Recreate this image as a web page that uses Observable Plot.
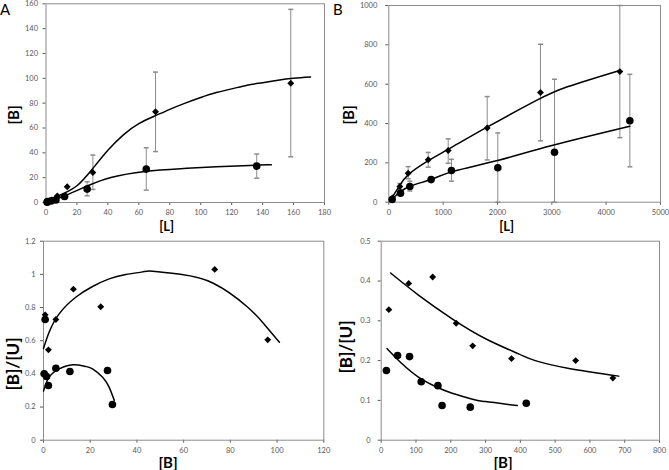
<!DOCTYPE html>
<html><head><meta charset="utf-8">
<script src="https://cdn.jsdelivr.net/npm/d3@7"></script>
<script src="https://cdn.jsdelivr.net/npm/@observablehq/plot@0.6"></script>
<style>
body{margin:0;background:#fff;}
#root{position:relative;width:669px;height:470px;overflow:hidden;font-family:Lato,sans-serif;background:#fff;}
.panel{position:absolute;}
.t{position:absolute;font-weight:bold;color:#000;white-space:nowrap;line-height:1;font-family:Lato,sans-serif;}
.rot{transform:translate(-50%,-50%) rotate(-90deg);}
.hor{transform:translate(-50%,-50%);}
.letter{position:absolute;font-size:15px;color:#000;line-height:1;font-family:Lato,sans-serif;}
</style></head><body><div id="root"></div>
<script>
// ---------- Panel A : [B] vs [L] ----------
const aDiamondL = [0.93, 3.85, 7.3, 13.7, 30.3, 70.8, 158.2];
const aDiamondB = [0.7, 2.1, 5.3, 12.7, 24.2, 73.1, 96];
const aDiamondHi = [null, null, null, null, 38.2, 105, 155.5];
const aDiamondLo = [null, null, null, null, 10.5, 41, 36.8];
const aCircleL = [0.75, 0.96, 3.4, 6.4, 12, 26.6, 64.8, 136.2];
const aCircleB = [0.3, 0.7, 1.3, 2.1, 4.8, 10.8, 26.9, 29.3];
const aCircleHi = [null, null, null, null, 6.5, 16.7, 44.1, 39];
const aCircleLo = [null, null, null, null, 3.2, 5.4, 10, 19.6];
const aFitUpperL = [0, 10, 20, 30, 40, 50, 60, 70, 80, 90, 100, 110, 120, 130, 140, 150, 160, 171];
const aFitUpperB = [0, 6.5, 13.5, 27, 42, 54.5, 63.5, 69.5, 75, 80, 84.5, 88.5, 91.5, 94.5, 96.5, 98.5, 100, 101];
const aFitLowerL = [0, 12, 27, 42, 64, 87, 110, 136.5, 145.6];
const aFitLowerB = [0, 5.4, 13.5, 20.2, 25, 27.2, 28.7, 30.1, 30.3];
const aXTicks = [0, 20, 40, 60, 80, 100, 120, 140, 160, 180];
const aYTicks = [0, 20, 40, 60, 80, 100, 120, 140, 160];

// ---------- Panel B : [B] vs [L] ----------
const bDiamondL = [67, 203, 356, 725, 1093, 1811, 2791, 4252];
const bDiamondB = [22, 80, 147, 216, 263, 377, 558, 664];
const bDiamondHi = [null, 95, 181, 253, 322, 537, 803, 1000];
const bDiamondLo = [null, 65, 119, 178, 198, 215, 312, 328];
const bCircleL = [61, 215, 387, 779, 1153, 2006, 3049, 4436];
const bCircleB = [14, 46, 80, 115, 161, 175, 254, 414];
const bCircleHi = [null, null, 107, null, 218, 352, 625, 650];
const bCircleLo = [null, null, 57, null, 107, 0, 0, 180];
const bFitUpperL = [30, 184, 360, 720, 1100, 1800, 2700, 3300, 4250];
const bFitUpperB = [12, 78, 140, 210, 270, 380, 515, 588, 670];
const bFitLowerL = [30, 200, 400, 800, 1200, 2000, 3000, 4436];
const bFitLowerB = [10, 50, 82, 118, 158, 212, 288, 386];
const bXTicks = [0, 1000, 2000, 3000, 4000, 5000];
const bYTicks = [0, 200, 400, 600, 800, 1000];

// ---------- Panel C : [B]/[U] vs [B] ----------
const cDiamondB = [0.7, 2.1, 5.3, 12.8, 24.5, 73.3, 96];
const cDiamondR = [0.756, 0.545, 0.728, 0.911, 0.805, 1.03, 0.605];
const cCircleB = [0.7, 0.3, 1.3, 2.1, 5.3, 11.3, 27.4, 29.5];
const cCircleR = [0.728, 0.40, 0.384, 0.33, 0.434, 0.414, 0.42, 0.215];
const cFitUpperB = [0, 2.4, 6.7, 13.8, 21, 28.1, 35.2, 42.4, 46.7, 58.6, 72.9, 87.2, 94.3, 101];
const cFitUpperR = [0.553, 0.651, 0.762, 0.862, 0.927, 0.973, 0.999, 1.015, 1.019, 1.0, 0.945, 0.805, 0.702, 0.591];
const cFitLowerB = [0, 2.4, 6.7, 12.5, 18, 21, 25.3, 28.1, 30.3];
const cFitLowerR = [0.296, 0.38, 0.43, 0.455, 0.445, 0.43, 0.38, 0.32, 0.24];
const cXTicks = [0, 20, 40, 60, 80, 100, 120];
const cYTicks = [0, 0.2, 0.4, 0.6, 0.8, 1, 1.2];

// ---------- Panel D : [B]/[U] vs [B] ----------
const dDiamondB = [22, 79, 148, 215.5, 263, 374.5, 559, 666];
const dDiamondR = [0.328, 0.394, 0.41, 0.294, 0.237, 0.205, 0.200, 0.156];
const dCircleB = [15, 47, 81.5, 115, 163, 175, 256, 417];
const dCircleR = [0.175, 0.213, 0.21, 0.147, 0.137, 0.087, 0.083, 0.093];
const dFitUpperB = [27, 108, 204, 300, 395, 443, 540, 683];
const dFitUpperR = [0.42, 0.364, 0.305, 0.255, 0.217, 0.200, 0.180, 0.161];
const dFitLowerB = [17, 60, 108, 156, 204, 271, 300, 391];
const dFitLowerR = [0.23, 0.192, 0.158, 0.135, 0.118, 0.101, 0.097, 0.087];
const dXTicks = [0, 100, 200, 300, 400, 500, 600, 700, 800];
const dYTicks = [0, 0.1, 0.2, 0.3, 0.4, 0.5];

// ---------- helpers ----------
const rows = (xs, ys) => xs.map((x, i) => ({x, y: ys[i]}));
const errRows = (xs, lo, hi) => xs.map((x, i) => ({x, lo: lo[i], hi: hi[i]})).filter(d => d.lo != null && d.hi != null);
const cap = {draw(ctx) { ctx.moveTo(-2.5, 0); ctx.lineTo(2.5, 0); }};
const GRAY = "#8c8c8c";

function panel(c) {
  const err = [...errRows(c.dL, c.dLo || [], c.dHi || []), ...errRows(c.cL, c.cLo || [], c.cHi || [])];
  const marks = [
    Plot.frame({stroke: GRAY}),
    Plot.ruleX(err, {x: "x", y1: "lo", y2: "hi", stroke: GRAY, strokeWidth: 1}),
    Plot.dot(err, {x: "x", y: "hi", symbol: cap, stroke: GRAY, fill: "none", r: 2}),
    Plot.dot(err, {x: "x", y: "lo", symbol: cap, stroke: GRAY, fill: "none", r: 2}),
    Plot.line(rows(c.f1x, c.f1y), {x: "x", y: "y", curve: "natural", stroke: "#000", strokeWidth: 1.5}),
    Plot.line(rows(c.f2x, c.f2y), {x: "x", y: "y", curve: "natural", stroke: "#000", strokeWidth: 1.5}),
    Plot.dot(rows(c.dL, c.dB), {x: "x", y: "y", symbol: d3.symbolDiamond2, fill: "#000", stroke: "none", r: 3.1}),
    Plot.dot(rows(c.cL, c.cB), {x: "x", y: "y", r: 3.8, fill: "#000", stroke: "none"})
  ];
  const svg = Plot.plot({
    width: c.w, height: c.h,
    marginLeft: c.ml, marginRight: c.mr, marginTop: c.mt, marginBottom: c.mb,
    x: {domain: c.xd, ticks: c.xt, tickSize: 3, tickPadding: c.xpad, tickFormat: d => String(d), label: null},
    y: {domain: c.yd, ticks: c.yt, tickSize: 3, tickPadding: c.ypad, tickFormat: d => String(d), label: null},
    style: {fontFamily: "Lato, sans-serif", fontSize: "7.5px", color: "#595959", background: "transparent", overflow: "visible"},
    marks
  });
  const div = document.createElement("div");
  div.className = "panel";
  div.style.left = c.left + "px";
  div.style.top = c.top + "px";
  div.appendChild(svg);
  document.getElementById("root").appendChild(div);
}

function label(text, x, y, size, rotate) {
  const el = document.createElement("div");
  el.className = "t " + (rotate ? "rot" : "hor");
  el.textContent = text;
  el.style.left = x + "px";
  el.style.top = y + "px";
  el.style.fontSize = size + "px";
  document.getElementById("root").appendChild(el);
}
function letter(text, x, y) {
  const el = document.createElement("div");
  el.className = "letter";
  el.textContent = text;
  el.style.left = x + "px";
  el.style.top = y + "px";
  document.getElementById("root").appendChild(el);
}

panel({left: 0, top: 0, w: 335, h: 235, ml: 45.5, mr: 11, mt: 3.3, mb: 33,
  xd: [0, 180], yd: [0, 160], xt: aXTicks, yt: aYTicks, xpad: 4, ypad: 5,
  dL: aDiamondL, dB: aDiamondB, dHi: aDiamondHi, dLo: aDiamondLo,
  cL: aCircleL, cB: aCircleB, cHi: aCircleHi, cLo: aCircleLo,
  f1x: aFitUpperL, f1y: aFitUpperB, f2x: aFitLowerL, f2y: aFitLowerB});
panel({left: 335, top: 0, w: 334, h: 235, ml: 53.3, mr: 9, mt: 5, mb: 33.3,
  xd: [0, 5000], yd: [0, 1000], xt: bXTicks, yt: bYTicks, xpad: 4, ypad: 8.5,
  dL: bDiamondL, dB: bDiamondB, dHi: bDiamondHi, dLo: bDiamondLo,
  cL: bCircleL, cB: bCircleB, cHi: bCircleHi, cLo: bCircleLo,
  f1x: bFitUpperL, f1y: bFitUpperB, f2x: bFitLowerL, f2y: bFitLowerB});
panel({left: 0, top: 235, w: 335, h: 235, ml: 43, mr: 11.7, mt: 5.7, mb: 30.3,
  xd: [0, 120], yd: [0, 1.2], xt: cXTicks, yt: cYTicks, xpad: 4, ypad: 5,
  dL: cDiamondB, dB: cDiamondR, cL: cCircleB, cB: cCircleR,
  f1x: cFitUpperB, f1y: cFitUpperR, f2x: cFitLowerB, f2y: cFitLowerR});
panel({left: 335, top: 235, w: 334, h: 235, ml: 45.7, mr: 10, mt: 5.7, mb: 30.3,
  xd: [0, 800], yd: [0, 0.5], xt: dXTicks, yt: dYTicks, xpad: 4, ypad: 7.5,
  dL: dDiamondB, dB: dDiamondR, cL: dCircleB, cB: dCircleR,
  f1x: dFitUpperB, f1y: dFitUpperR, f2x: dFitLowerB, f2y: dFitLowerR});

label("[B]", 13, 115, 15, true);
label("[L]", 166.7, 225.5, 13, false);
label("[B]", 348, 115, 15, true);
label("[L]", 506.7, 225.5, 13, false);
label("[B]/[U]", 12, 364, 17, true);
label("[B]", 168, 461.5, 15, false);
label("[B]/[U]", 345, 347, 17, true);
label("[B]", 503, 461.5, 15, false);
letter("A", 0, 2);
letter("B", 333, 2);
</script>
</body></html>
